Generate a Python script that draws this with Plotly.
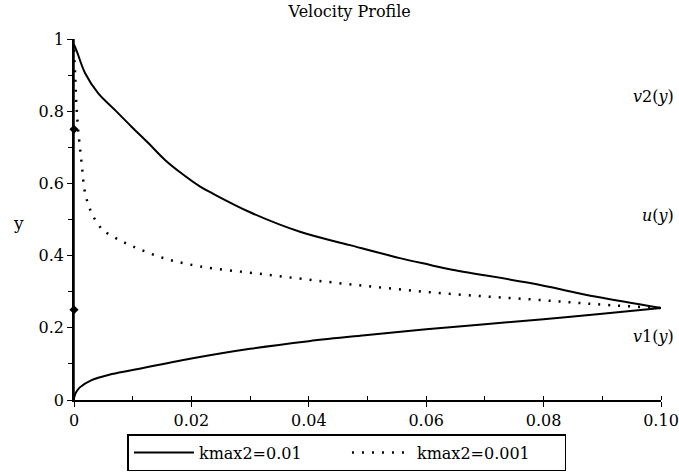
import plotly.graph_objects as go

# kmax2 = 0.01 (solid) upper branch v2(y)
x_v2_a = [0, 0.0005, 0.0019, 0.0041, 0.007, 0.0098, 0.0127, 0.0155, 0.0183, 0.0215, 0.0235,
          0.030, 0.0385, 0.047, 0.0555, 0.0607, 0.064, 0.0777, 0.089, 0.1]
y_v2_a = [0.985, 0.965, 0.905, 0.85, 0.803, 0.757, 0.711, 0.665, 0.628, 0.591, 0.573,
          0.52, 0.466, 0.429, 0.393, 0.374, 0.362, 0.324, 0.286, 0.255]
# kmax2 = 0.01 (solid) lower branch v1(y)
x_v1_a = [0, 0.0003, 0.001, 0.003, 0.006, 0.01, 0.02, 0.03, 0.04, 0.05, 0.06, 0.07, 0.08, 0.09, 0.1]
y_v1_a = [0.005, 0.02, 0.035, 0.055, 0.07, 0.083, 0.115, 0.142, 0.163, 0.18, 0.196, 0.21, 0.224, 0.239, 0.255]
# kmax2 = 0.001 (dotted) upper branch
x_v2_b = [0, 0.0002, 0.0004, 0.0007, 0.0013, 0.0019, 0.003, 0.0044, 0.0053, 0.0075, 0.0101,
          0.0155, 0.0215, 0.0325, 0.0428, 0.052, 0.061, 0.07, 0.0777, 0.085, 0.092, 0.1]
y_v2_b = [0.97, 0.9, 0.82, 0.75, 0.656, 0.573, 0.518, 0.48, 0.466, 0.445, 0.425,
          0.392, 0.37, 0.348, 0.328, 0.312, 0.298, 0.287, 0.279, 0.27, 0.262, 0.255]
# markers on the axis
y_marks = [0.25, 0.75]
x_marks = [0, 0]

x_ticks = [0, 0.02, 0.04, 0.06, 0.08, 0.10]
x_ticklabels = ["0", "0.02", "0.04", "0.06", "0.08", "0.10"]
y_ticks = [0, 0.2, 0.4, 0.6, 0.8, 1]
y_ticklabels = ["0", "0.2", "0.4", "0.6", "0.8", "1"]

FONT = "DejaVu Serif"

fig = go.Figure()
fig.add_trace(go.Scatter(x=x_v2_a, y=y_v2_a, mode="lines", name="kmax2=0.01",
                         line=dict(color="black", width=2), line_shape="spline"))
fig.add_trace(go.Scatter(x=x_v1_a, y=y_v1_a, mode="lines", showlegend=False,
                         line=dict(color="black", width=2), line_shape="spline"))
fig.add_trace(go.Scatter(x=x_v2_b, y=y_v2_b, mode="lines", name="kmax2=0.001",
                         line=dict(color="black", width=2.5, dash="2px,8px"), line_shape="spline"))
fig.add_trace(go.Scatter(x=[0, 0], y=[0, 1], mode="lines", showlegend=False,
                         line=dict(color="black", width=1.5)))
fig.add_trace(go.Scatter(x=x_marks, y=y_marks, mode="markers", showlegend=False, cliponaxis=False,
                         marker=dict(symbol="diamond", size=7, color="black")))

fig.update_layout(
    width=679, height=473,
    margin=dict(l=74, r=18, t=39, b=73, autoexpand=False),
    plot_bgcolor="white", paper_bgcolor="white",
    font=dict(family=FONT, size=16, color="black"),
    title=dict(text="Velocity Profile", x=0.515, xanchor="center", y=0.988, yanchor="top",
               font=dict(family=FONT, size=16)),
    xaxis=dict(range=[0, 0.1], tickvals=x_ticks, ticktext=x_ticklabels, showgrid=False,
               zeroline=False, showline=True, linecolor="black", linewidth=1.5,
               ticks="outside", ticklen=5, tickcolor="black",
               minor=dict(dtick=0.01, ticks="inside", ticklen=4, tickcolor="black"),
               tickfont=dict(family=FONT, size=16)),
    yaxis=dict(range=[0, 1], tickvals=y_ticks, ticktext=y_ticklabels, showgrid=False,
               zeroline=False, showline=True, linecolor="black", linewidth=1.5,
               ticks="outside", ticklen=5, tickcolor="black",
               minor=dict(dtick=0.1, ticks="outside", ticklen=4, tickcolor="black"),
               tickfont=dict(family=FONT, size=16)),
    legend=dict(orientation="h", x=0.465, xanchor="center", y=-0.197, yanchor="bottom",
                bordercolor="black", borderwidth=1.5, font=dict(family=FONT, size=16),
                itemwidth=60, tracegroupgap=0, entrywidth=143),
    showlegend=True,
)

fig.add_annotation(text="y", x=-0.095, y=0.49, xref="paper", yref="paper", showarrow=False,
                   xanchor="center", yanchor="middle", font=dict(family=FONT, size=17))

labels = [("<i>v</i>2(<i>y</i>)", 0.84), ("<i>u</i>(<i>y</i>)", 0.51), ("<i>v</i>1(<i>y</i>)", 0.175)]
for txt, yy in labels:
    fig.add_annotation(text=txt, x=1.025, y=yy, xref="paper", yref="paper", showarrow=False,
                       xanchor="right", yanchor="middle", font=dict(family=FONT, size=16))

fig.write_html("out.html")
